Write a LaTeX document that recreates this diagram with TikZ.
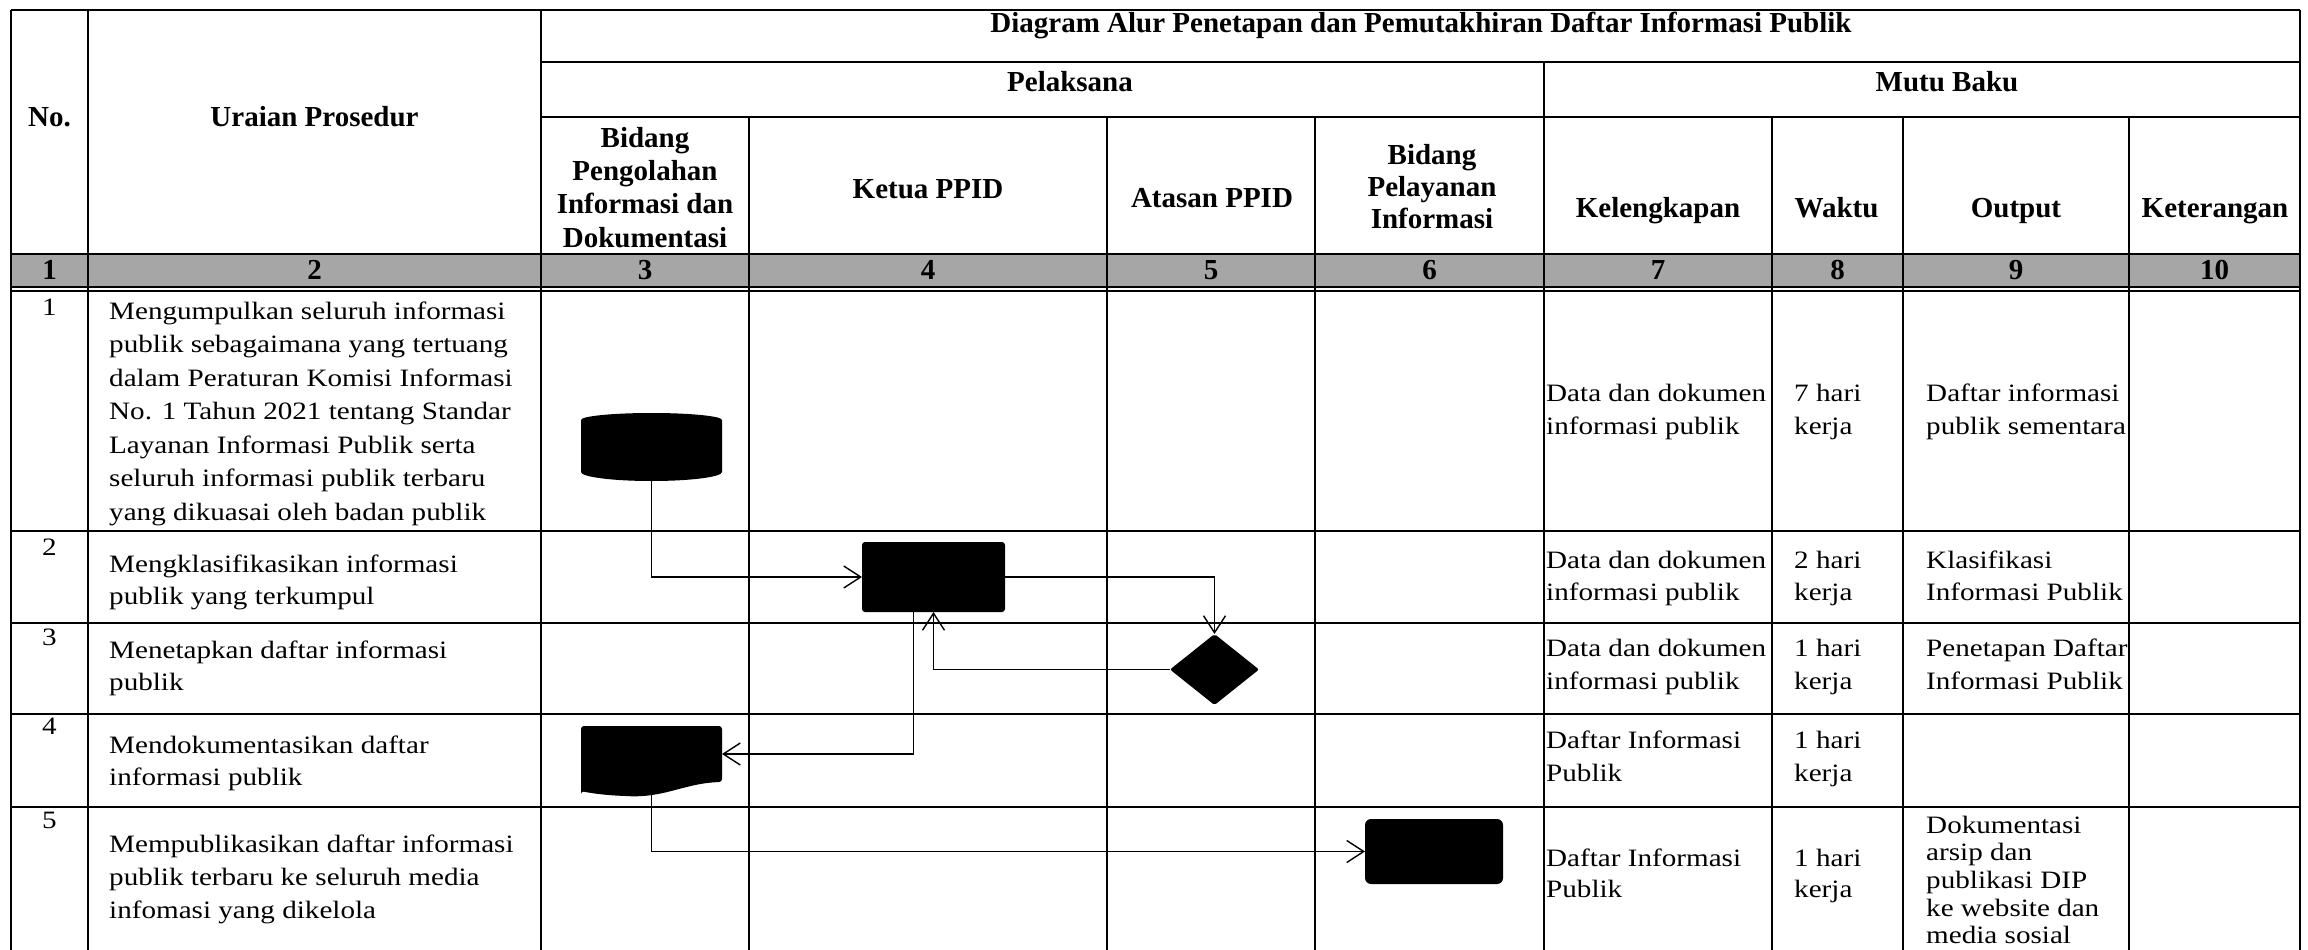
\documentclass[tikz,border=0pt]{standalone}
\usepackage{fontspec}
\setmainfont{Liberation Serif}
\newfontfamily\bodyfam{Liberation Serif}[FakeStretch=1.165]
\usetikzlibrary{arrows.meta}

\tikzset{
  hline/.style={line width=2pt, black},
  vline/.style={line width=1.6pt, black},
  conn/.style={line width=1.4pt, black, -{Straight Barb[length=17pt,width=22pt,line width=1.4pt]}},
  hd/.style={font=\fontsize{29}{33.3}\selectfont\bfseries, inner sep=0pt, align=center},
  bd/.style={font=\bodyfam\fontsize{25}{33}\selectfont, inner sep=0pt, align=left, anchor=north west},
  num/.style={font=\bodyfam\fontsize{25}{30}\selectfont, inner sep=0pt, anchor=base},
  slot/.style={draw=none, inner sep=0pt, outer sep=0pt},
  blk/.style={fill=black, draw=none, inner sep=0pt, outer sep=0pt}
}
\newcommand{\bodycell}[5]{\node[bd, font=\bodyfam\fontsize{25}{#4}\selectfont] (#1) at (#2,{20-#3}) {\rule{0pt}{20pt}#5};}

\begin{document}
\begin{tikzpicture}[x=1pt,y=1pt]
\useasboundingbox (0,0) rectangle (2308,-950);
\fill[white] (0,0) rectangle (2308,-950);

% gray number row
\fill[black!35] (11,-254) rectangle (2300,-287);

% horizontal lines
\draw[hline] (11,-10) -- (2300,-10);
\draw[hline] (541,-62) -- (2300,-62);
\draw[hline] (541,-117) -- (2300,-117);
\draw[hline] (11,-254) -- (2300,-254);
\draw[hline] (11,-286.5) -- (2300,-286.5);
\draw[hline] (11,-290.5) -- (2300,-290.5);
\foreach \yy in {531,623,714,807} \draw[hline] (11,-\yy) -- (2300,-\yy);

% vertical lines
\foreach \xx in {11,88,541,2300} \draw[vline] (\xx,-10) -- (\xx,-950);
\draw[vline, line width=2.3pt] (1544,-62) -- (1544,-950);
\foreach \xx in {749,1107,1315,1772,1903,2129} \draw[vline] (\xx,-117) -- (\xx,-950);

% header texts
\node[hd, anchor=base] (hNo) at (49.5,-126) {No.};
\node[hd, anchor=base] (hUr) at (314.5,-126) {Uraian Prosedur};
\node[hd, anchor=base] (hTitle) at (1421,-33) {Diagram Alur Penetapan dan Pemutakhiran Daftar Informasi Publik};
\node[hd, anchor=base] (hPel) at (1070,-92) {Pelaksana};
\node[hd, anchor=base] (hMutu) at (1947,-92) {Mutu Baku};
\node[hd, anchor=north] (hC3) at (645,-125) {\rule{0pt}{22pt}Bidang\\Pengolahan\\Informasi dan\\Dokumentasi};
\node[hd, anchor=base] (hC4) at (928,-198) {Ketua PPID};
\node[hd, anchor=base] (hC5) at (1212,-207) {Atasan PPID};
\node[hd, anchor=north, font=\fontsize{29}{32}\selectfont\bfseries] (hC6) at (1432,-142) {\rule{0pt}{22pt}Bidang\\Pelayanan\\Informasi};
\node[hd, anchor=base] (hC7) at (1658,-217) {Kelengkapan};
\node[hd, anchor=base] (hC8) at (1836.5,-217) {Waktu};
\node[hd, anchor=base] (hC9) at (2016,-217) {Output};
\node[hd, anchor=base] (hC10) at (2215,-217) {Keterangan};

% gray row numbers
\node[hd, anchor=base] (g1) at (49.5,-279) {1};
\node[hd, anchor=base] (g2) at (314.5,-279) {2};
\node[hd, anchor=base] (g3) at (645,-279) {3};
\node[hd, anchor=base] (g4) at (928,-279) {4};
\node[hd, anchor=base] (g5) at (1211,-279) {5};
\node[hd, anchor=base] (g6) at (1429.5,-279) {6};
\node[hd, anchor=base] (g7) at (1658,-279) {7};
\node[hd, anchor=base] (g8) at (1837.5,-279) {8};
\node[hd, anchor=base] (g9) at (2016,-279) {9};
\node[hd, anchor=base] (g10) at (2214.5,-279) {10};

% row numbers
\node[num] (n1) at (49.5,-315) {1};
\node[num] (n2) at (49.5,-555) {2};
\node[num] (n3) at (49.5,-645) {3};
\node[num] (n4) at (49.5,-734) {4};
\node[num] (n5) at (49.5,-828) {5};

% procedure texts
\bodycell{p1}{109}{319}{33.5}{Mengumpulkan seluruh informasi\\publik sebagaimana yang tertuang\\dalam Peraturan Komisi Informasi\\No. 1 Tahun 2021 tentang Standar\\Layanan Informasi Publik serta\\seluruh informasi publik terbaru\\yang dikuasai oleh badan publik}
\bodycell{p2}{109}{572}{31.8}{Mengklasifikasikan informasi\\publik yang terkumpul}
\bodycell{p3}{109}{658}{31.8}{Menetapkan daftar informasi\\publik}
\bodycell{p4}{109}{753}{32.3}{Mendokumentasikan daftar\\informasi publik}
\bodycell{p5}{109}{852}{33.3}{Mempublikasikan daftar informasi\\publik terbaru ke seluruh media\\infomasi yang dikelola}

% kelengkapan
\bodycell{k1}{1546}{401}{33}{Data dan dokumen\\informasi publik}
\bodycell{k2}{1546}{568}{32.5}{Data dan dokumen\\informasi publik}
\bodycell{k3}{1546}{656}{33}{Data dan dokumen\\informasi publik}
\bodycell{k4}{1546}{748}{33}{Daftar Informasi\\Publik}
\bodycell{k5}{1546}{866}{31.5}{Daftar Informasi\\Publik}

% waktu
\bodycell{w1}{1794}{401}{33}{7 hari\\kerja}
\bodycell{w2}{1794}{568}{32.5}{2 hari\\kerja}
\bodycell{w3}{1794}{656}{33}{1 hari\\kerja}
\bodycell{w4}{1794}{748}{33}{1 hari\\kerja}
\bodycell{w5}{1794}{866}{31.5}{1 hari\\kerja}

% output
\bodycell{o1}{1926}{401}{33}{Daftar informasi\\publik sementara}
\bodycell{o2}{1926}{568}{32.5}{Klasifikasi\\Informasi Publik}
\bodycell{o3}{1926}{656}{33}{Penetapan Daftar\\Informasi Publik}
\bodycell{o5}{1926}{833}{27.6}{Dokumentasi\\arsip dan\\publikasi DIP\\ke website dan\\media sosial}

% flow shapes
\node[slot, minimum width=141pt, minimum height=68pt] (db) at (651.5,-447) {};
\fill ([yshift=-7pt]db.north west) arc[start angle=180,end angle=0,x radius=70.5pt,y radius=7pt]
  -- ([yshift=9pt]db.south east) arc[start angle=0,end angle=-180,x radius=70.5pt,y radius=9pt] -- cycle;

\node[blk, rounded corners=3pt, minimum width=143pt, minimum height=70pt] (proc) at (933.5,-577) {};

\node[slot, minimum width=89pt, minimum height=71pt] (dec) at (1214.5,-669.5) {};
\fill[rounded corners=2pt] (dec.north) -- (dec.east) -- (dec.south) -- (dec.west) -- cycle;

\node[slot, minimum width=141pt, minimum height=56pt] (doc) at (651.5,-754) {};
\fill[rounded corners=3pt] (doc.south west) ++(0,-10) -- (doc.north west) -- (doc.north east) -- (doc.south east)
  .. controls (685,-783) and (665,-798) .. (625,-796)
  .. controls (603,-795) and (590,-793) .. (581,-791) -- cycle;

\node[blk, rounded corners=6pt, minimum width=138pt, minimum height=65pt] (term) at (1434,-851.5) {};

% connectors
\draw[conn] (db.south) |- (proc.west);
\draw[conn] (proc.east) -| (dec.north);
\draw[conn] (dec.west) -| (proc.south);
\draw[conn] ([xshift=-20pt]proc.south) |- (doc.east);
\draw[conn] (doc.south) |- (term.west);
\end{tikzpicture}
\end{document}
